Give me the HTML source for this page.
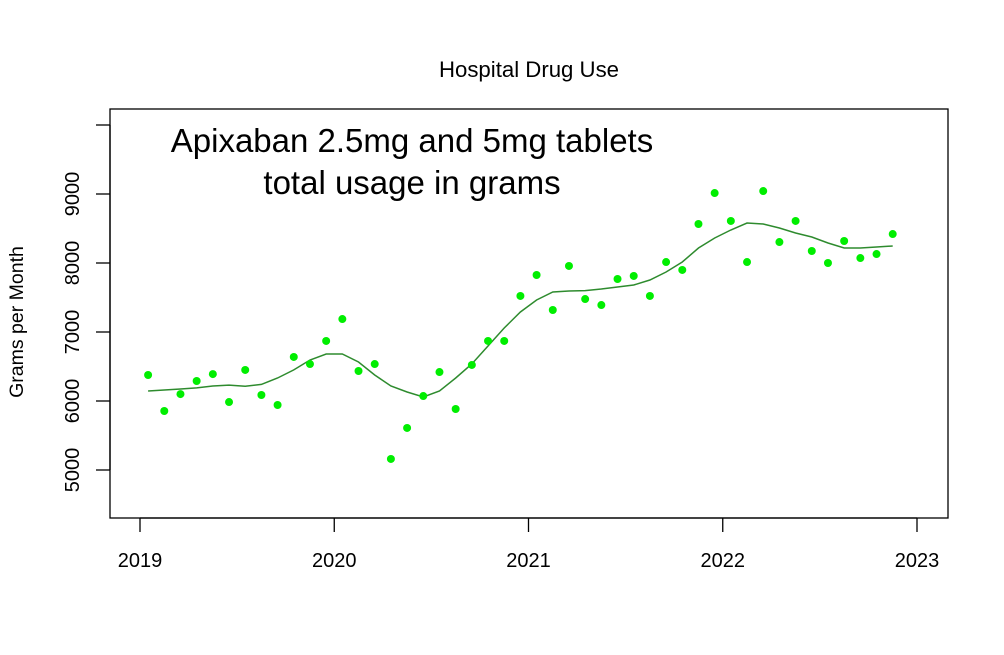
<!DOCTYPE html>
<html><head><meta charset="utf-8"><style>
body{margin:0;background:#fff;}
svg{display:block;font-family:"Liberation Sans",sans-serif;}
</style></head><body>
<svg id="chart" width="1004" height="655">
<text x="529" y="77" font-size="22.2" text-anchor="middle">Hospital Drug Use</text>
<rect x="110" y="109" width="838" height="409" fill="none" stroke="#000" stroke-width="1.3"/>
<text x="412" y="152" font-size="33" text-anchor="middle">Apixaban 2.5mg and 5mg tablets</text>
<text x="412" y="194" font-size="33" text-anchor="middle">total usage in grams</text>
<text transform="translate(23,322) rotate(-90)" font-size="19.5" text-anchor="middle">Grams per Month</text>
<g id="axes"></g><g id="marks"></g>
</svg>
<script>
const xTicks=[2019,2020,2021,2022,2023];
const yTicks=[5000,6000,7000,8000,9000,10000];
const yTickLabels=["5000","6000","7000","8000","9000",""];
const values=[6377,5855,6100,6290,6390,5985,6450,6087,5942,6638,6536,6870,7188,6435,6536,5160,5609,6072,6420,5884,6522,6870,6870,7522,7826,7319,7957,7478,7391,7768,7812,7522,8014,7899,8565,9014,8609,8014,9043,8304,8609,8174,8000,8319,8072,8130,8420];
const smooth=[6145,6160,6174,6190,6217,6230,6215,6240,6333,6450,6594,6681,6681,6565,6377,6217,6130,6058,6145,6333,6536,6797,7058,7290,7464,7580,7594,7600,7623,7652,7681,7754,7870,8014,8217,8362,8478,8580,8565,8507,8435,8377,8290,8217,8217,8232,8246];
const startYear=2019, startMonth=1;
const X=t=>140+(t-2019)*194.25;
const Y=v=>401-(v-6000)*0.069;
const ns="http://www.w3.org/2000/svg";
const axes=document.getElementById('axes'),marks=document.getElementById('marks');
function mk(tag,attrs,parent){const e=document.createElementNS(ns,tag);for(const k in attrs)e.setAttribute(k,attrs[k]);parent.appendChild(e);return e;}
let l=mk('line',{x1:X(2019),x2:X(2023),y1:518,y2:518,stroke:'#000','stroke-width':1.3},axes);


xTicks.forEach(t=>{
  const tk=mk('line',{x1:X(t),x2:X(t),y1:518,y2:532,stroke:'#000','stroke-width':1.3},axes);
  
  
  const tx=mk('text',{x:X(t),y:567,'font-size':20,'text-anchor':'middle'},axes);
  tx.textContent=t;
  
  
});
let la=mk('line',{x1:110,x2:110,y1:Y(5000),y2:Y(10000),stroke:'#000','stroke-width':1.3},axes);


yTicks.forEach((v,i)=>{
  const tk=mk('line',{x1:96,x2:110,y1:Y(v),y2:Y(v),stroke:'#000','stroke-width':1.3},axes);
  
  
  const tx=mk('text',{transform:`translate(79,${Y(v)}) rotate(-90)`,'font-size':20,'text-anchor':'middle'},axes);
  tx.textContent=yTickLabels[i];
  
  
});
const tOf=i=>startYear+(startMonth-1+i)/12+1/24;
const pts=smooth.map((v,i)=>X(tOf(i)).toFixed(1)+','+Y(v).toFixed(1)).join(' ');
const pl=mk('polyline',{points:pts,fill:'none',stroke:'#2e8b2e','stroke-width':1.5},marks);


values.forEach((v,i)=>{
  const c=mk('circle',{cx:X(tOf(i)),cy:Y(v),r:4,fill:'#00ee00'},marks);
  
  
});
</script>
</body></html>
